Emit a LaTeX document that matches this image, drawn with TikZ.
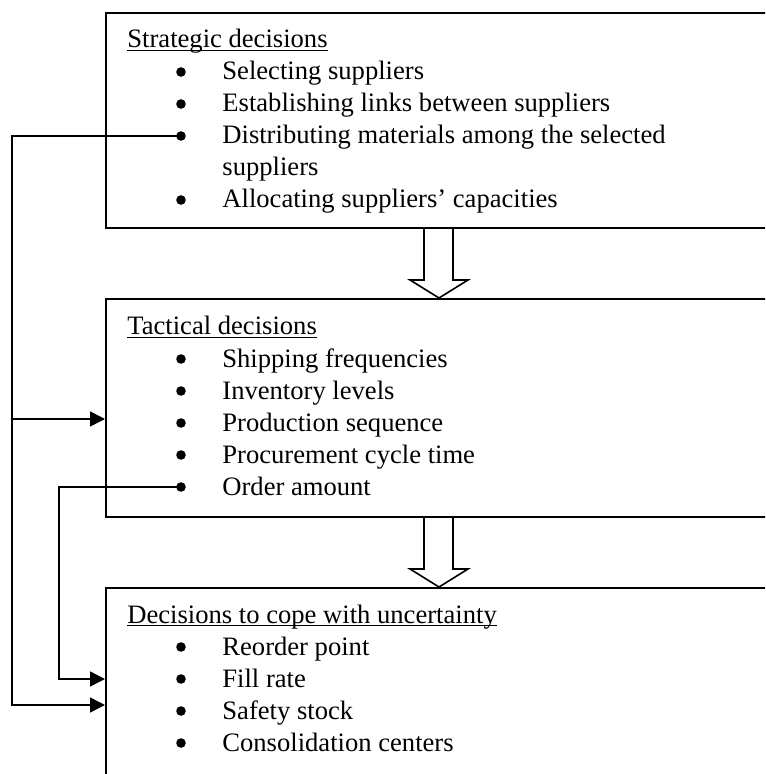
\documentclass[tikz,border=0pt]{standalone}
\usepackage{fontspec}
\setmainfont{Liberation Serif}
\usetikzlibrary{calc,arrows.meta}
\tikzset{
	panel/.style={draw, line width=0.85pt, anchor=north west, minimum width=345pt, inner sep=0pt},
	link/.style={line width=0.75pt},
	linkarrow/.style={-{Triangle[length=7.5pt,width=7.5pt]}},
	blockarrow/.style={draw, line width=0.8pt, line join=miter},
	bulletdot/.style={circle, fill, inner sep=0pt, minimum size=4.8pt},
	entry/.style={anchor=base west, inner sep=0pt, font=\fontsize{13.3}{16}\selectfont},
}
\begin{document}
\begin{tikzpicture}[x=0.5pt, y=-0.5pt]
	\useasboundingbox (0,0) rectangle (765,774);
	\clip (0,0) rectangle (765,774);

	% \drawhead#name#y#text
	\def\drawhead#1#2#3{
		\node[entry] (#1) at (127,#2) {#3};
		\draw[line width=0.8pt] ($(#1.base west)+(0,2.5)$) -- ($(#1.base east)+(0,2.5)$);
	}

	% \drawitem#name#y#text
	\def\drawitem#1#2#3{
		\node[bulletdot] (#1) at (181,#2) {};
		\node[entry] (#1-t) at (222,#2+8) {#3};
	}

	% \hollowarrow#from#to
	\def\hollowarrow#1#2{
		\draw[blockarrow] ($(#1.south west)+(319,0)$) -- ($(#2.north west)+(319,-18)$)
			-- ++(-14,0) -- ($(#2.north west)+(334,0)$) -- ($(#2.north west)+(363,-18)$)
			-- ++(-15,0) -- ($(#1.south west)+(348,0)$);
	}

	% boxes
	\node[panel, minimum height=107.5pt] (strat) at (105,12) {};
	\node[panel, minimum height=109pt] (tact) at (105,298) {};
	\node[panel, minimum height=110pt] (unc) at (105,587) {};

	\hollowarrow{strat}{tact}
	\hollowarrow{tact}{unc}

	% connectors
	\coordinate (outer) at (12,0);
	\coordinate (inner) at (59,0);
	\coordinate (tin) at ($(tact.north west)+(0,121)$);
	\coordinate (uin1) at ($(unc.north west)+(0,92)$);
	\coordinate (uin2) at ($(unc.north west)+(0,118)$);

	% strategic
	\drawhead{strat-h}{48}{Strategic decisions}
	\drawitem{s1}{72}{Selecting suppliers}
	\drawitem{s2}{104}{Establishing links between suppliers}
	\drawitem{s3}{136}{Distributing materials among the selected}
	\node[entry] (s3-u) at (222,176) {suppliers};
	\drawitem{s4}{200}{Allocating suppliers’ capacities}

	% tactical
	\drawhead{tact-h}{335}{Tactical decisions}
	\drawitem{t1}{359}{Shipping frequencies}
	\drawitem{t2}{391}{Inventory levels}
	\drawitem{t3}{423}{Production sequence}
	\drawitem{t4}{455}{Procurement cycle time}
	\drawitem{t5}{487}{Order amount}

	% uncertainty
	\drawhead{unc-h}{623}{Decisions to cope with uncertainty}
	\drawitem{u1}{647}{Reorder point}
	\drawitem{u2}{679}{Fill rate}
	\drawitem{u3}{711}{Safety stock}
	\drawitem{u4}{743}{Consolidation centers}

	\draw[link, linkarrow] (s3.center) -- (s3 -| outer) |- (uin2);
	\draw[link, linkarrow] (tin -| outer) -- (tin);
	\draw[link, linkarrow] (t5.center) -- (t5 -| inner) |- (uin1);
\end{tikzpicture}
\end{document}
